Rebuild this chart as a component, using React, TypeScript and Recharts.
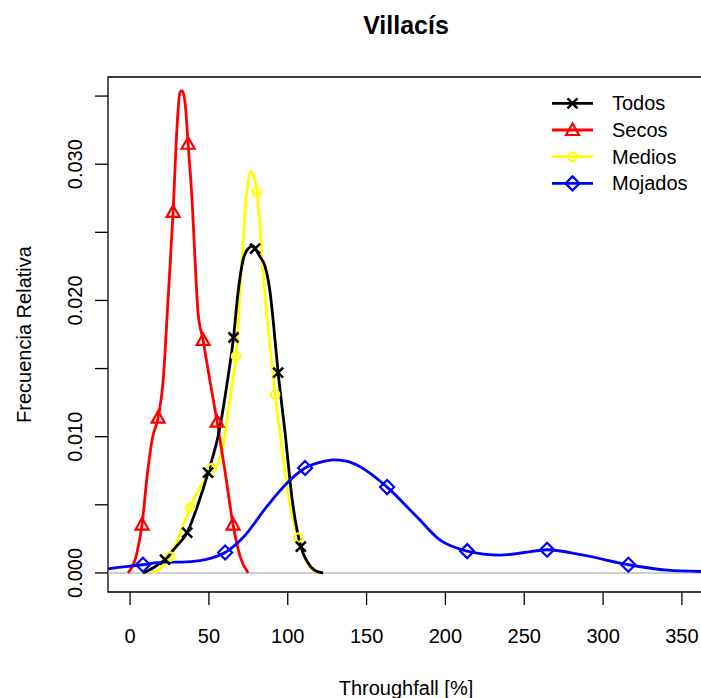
import React from 'react';
import { ComposedChart, Line, XAxis, YAxis, ReferenceLine, ReferenceArea, Legend, Label } from 'recharts';

const FONT = '"Liberation Sans", Arial, Helvetica, sans-serif';

// Density of throughfall (%) for each class of event
const todosX = [8.2, 15, 22.2, 29, 36.2, 43, 49.5, 57.1, 61.5, 65.6, 68.5, 71.7, 74.9, 78, 79.3, 82.5, 85.6, 88.8, 90.7, 93.9, 98.3, 102.8, 108.3, 112.7, 117, 122.4];
const todosY = [0, 0.0004, 0.00098, 0.0019, 0.00296, 0.005, 0.00736, 0.01075, 0.0139, 0.01728, 0.0206, 0.023, 0.0238, 0.024, 0.0238, 0.0232, 0.0225, 0.0206, 0.0186, 0.0147, 0.0103, 0.0054, 0.00193, 0.00076, 0.0002, 0];
const todosMarks = [22.2, 36.2, 49.5, 65.6, 79.3, 93.9, 108.3];

const secosX = [-1.3, 4.4, 7.6, 10.8, 14, 17.8, 20.9, 24.1, 27.3, 29.8, 31.7, 33, 34.9, 36.8, 39.3, 41.2, 43.1, 46.3, 50.8, 55.2, 60.3, 65.3, 69.8, 74.9];
const secosY = [0, 0.0015, 0.00355, 0.0071, 0.0098, 0.0114, 0.014, 0.0201, 0.0265, 0.0328, 0.0353, 0.0354, 0.0345, 0.0315, 0.0274, 0.023, 0.0191, 0.0171, 0.014, 0.0111, 0.0074, 0.00355, 0.0012, 0];
const secosMarks = [7.6, 17.8, 27.3, 36.8, 46.3, 55.2, 65.3];

const mediosX = [14, 17.8, 25.4, 31.7, 38.1, 42.5, 48.8, 52, 55.2, 59, 62.2, 65, 67.2, 69.9, 71.9, 74, 76.6, 78.5, 80.4, 82.6, 84.5, 87, 89.5, 92, 96.5, 101.6, 106.6, 112.4, 118.8];
const mediosY = [0, 0.0002, 0.0012, 0.0029, 0.0048, 0.0059, 0.0071, 0.0077, 0.0079, 0.0093, 0.0118, 0.014, 0.0159, 0.021, 0.0248, 0.0279, 0.0295, 0.0291, 0.028, 0.025, 0.0218, 0.0186, 0.0158, 0.0131, 0.009, 0.0048, 0.0026, 0.0007, 0];
const mediosMarks = [25.4, 38.1, 52, 67.2, 80.4, 92, 106.6];

const mojadosX = [-14, 0, 8.2, 20.9, 33, 44.4, 52, 60.3, 71.7, 86.9, 99.6, 111, 120, 128.8, 137, 145.9, 163, 182, 196.7, 213.8, 234.7, 250, 264.5, 287.4, 316, 340.7, 364];
const mojadosY = [0.0003, 0.0005, 0.0006, 0.0008, 0.0008, 0.0009, 0.0011, 0.0015, 0.0026, 0.0049, 0.0066, 0.0077, 0.0081, 0.0083, 0.0082, 0.0078, 0.0063, 0.0041, 0.0024, 0.0016, 0.0013, 0.0015, 0.0017, 0.0013, 0.0006, 0.0002, 0.0001];
const mojadosMarks = [8.2, 60.3, 111, 163, 213.8, 264.5, 316];

const X_TICKS = [0, 50, 100, 150, 200, 250, 300, 350];
const Y_TICKS = [0, 0.005, 0.01, 0.015, 0.02, 0.025, 0.03, 0.035];
const X_DOMAIN: [number, number] = [-14, 364];
const Y_DOMAIN: [number, number] = [-0.0014, 0.0364];

type Shape = 'cross' | 'triangle' | 'circle' | 'diamond';

const toPoints = (xs: number[], ys: number[], marks: number[]) =>
  xs.map((x, i) => ({ x, y: ys[i], m: marks.includes(x) }));

const SERIES = [
  { name: 'Todos', color: '#000000', shape: 'cross' as Shape, data: toPoints(todosX, todosY, todosMarks) },
  { name: 'Secos', color: '#ff0000', shape: 'triangle' as Shape, data: toPoints(secosX, secosY, secosMarks) },
  { name: 'Medios', color: '#ffff00', shape: 'circle' as Shape, data: toPoints(mediosX, mediosY, mediosMarks) },
  { name: 'Mojados', color: '#0000ff', shape: 'diamond' as Shape, data: toPoints(mojadosX, mojadosY, mojadosMarks) },
];

// yellow goes underneath, black sits on top of it
const DRAW_ORDER = ['Medios', 'Secos', 'Todos', 'Mojados'];

const Marker = ({ shape, cx, cy, color }: { shape: Shape; cx: number; cy: number; color: string }) => {
  const common = { stroke: color, strokeWidth: 2.2, fill: 'none' };
  if (shape === 'cross') {
    return <path d={`M${cx - 5},${cy - 5}L${cx + 5},${cy + 5}M${cx - 5},${cy + 5}L${cx + 5},${cy - 5}`} {...common} strokeWidth={2.6} />;
  }
  if (shape === 'triangle') {
    return <polygon points={`${cx},${cy - 6.5} ${cx - 6.5},${cy + 5} ${cx + 6.5},${cy + 5}`} {...common} />;
  }
  if (shape === 'circle') {
    return <circle cx={cx} cy={cy} r={4.2} {...common} />;
  }
  return <polygon points={`${cx},${cy - 7} ${cx + 7},${cy} ${cx},${cy + 7} ${cx - 7},${cy}`} {...common} />;
};

const XTick = ({ x, payload }: any) => (
  <text x={x} y={643} textAnchor="middle" fontSize={20} fontFamily={FONT} fill="#000">
    {payload.value}
  </text>
);

const YTick = ({ y, payload }: any) => {
  const v = payload.value as number;
  if (Math.round(v * 1000) % 10 !== 0) return <g />;
  return (
    <text x={82} y={y} transform={`rotate(-90, 82, ${y})`} textAnchor="middle" fontSize={20} fontFamily={FONT} fill="#000">
      {v.toFixed(3)}
    </text>
  );
};

const LegendBox = () => (
  <svg width={161} height={110} style={{ display: 'block' }}>
    {SERIES.map((s, i) => {
      const cy = 13.3 + i * 26.7;
      return (
        <g key={s.name}>
          <line x1={12} x2={53} y1={cy} y2={cy} stroke={s.color} strokeWidth={2.8} />
          <Marker shape={s.shape} cx={32.5} cy={cy} color={s.color} />
          <text x={72} y={cy + 7} fontSize={20} fontFamily={FONT} fill="#000">
            {s.name}
          </text>
        </g>
      );
    })}
  </svg>
);

export default function App() {
  const ordered = DRAW_ORDER.map((n) => SERIES.find((s) => s.name === n)!);
  return (
    <div style={{ position: 'absolute', left: 0, top: 0, width: 701, height: 698, overflow: 'hidden', background: '#fff' }}>
      <ComposedChart width={720} height={698} margin={{ top: 77, right: 16, bottom: 0, left: 0 }}>
        <text x={406} y={34} textAnchor="middle" fontSize={25} fontWeight="bold" fontFamily={FONT} fill="#000">
          Villacís
        </text>
        <XAxis
          type="number"
          dataKey="x"
          domain={X_DOMAIN}
          allowDataOverflow
          ticks={X_TICKS}
          interval={0}
          tickSize={13}
          tickLine={{ stroke: '#000', strokeWidth: 1.3 }}
          axisLine={false}
          height={106}
          tick={XTick}
        >
          <Label
            content={() => (
              <text x={406} y={695} textAnchor="middle" fontSize={20} fontFamily={FONT} fill="#000">
                Throughfall [%]
              </text>
            )}
          />
        </XAxis>
        <YAxis
          type="number"
          domain={Y_DOMAIN}
          allowDataOverflow
          ticks={Y_TICKS}
          interval={0}
          tickSize={13}
          tickLine={{ stroke: '#000', strokeWidth: 1.3 }}
          axisLine={false}
          width={108}
          tick={YTick}
        >
          <Label
            content={() => (
              <text x={31} y={334.5} transform="rotate(-90, 31, 334.5)" textAnchor="middle" fontSize={20} fontFamily={FONT} fill="#000">
                Frecuencia Relativa
              </text>
            )}
          />
        </YAxis>
        <ReferenceLine y={0} stroke="#bebebe" strokeWidth={1.5} />
        {ordered.map((s) => (
          <Line
            key={s.name}
            name={s.name}
            data={s.data}
            dataKey="y"
            type="monotone"
            stroke={s.color}
            strokeWidth={2.8}
            strokeLinejoin="round"
            isAnimationActive={false}
            activeDot={false}
            dot={(p: any) =>
              p.payload && p.payload.m ? (
                <Marker key={`${s.name}-${p.index}`} shape={s.shape} cx={p.cx} cy={p.cy} color={s.color} />
              ) : (
                <g key={`${s.name}-${p.index}`} />
              )
            }
          />
        ))}
        <ReferenceArea x1={X_DOMAIN[0]} x2={X_DOMAIN[1]} y1={Y_DOMAIN[0]} y2={Y_DOMAIN[1]} fill="none" stroke="#000" strokeWidth={1.3} />
        <Legend
          layout="horizontal"
          verticalAlign="middle"
          align="center"
          wrapperStyle={{ left: 540, top: 90, width: 161, height: 110 }}
          content={() => <LegendBox />}
        />
      </ComposedChart>
    </div>
  );
}
